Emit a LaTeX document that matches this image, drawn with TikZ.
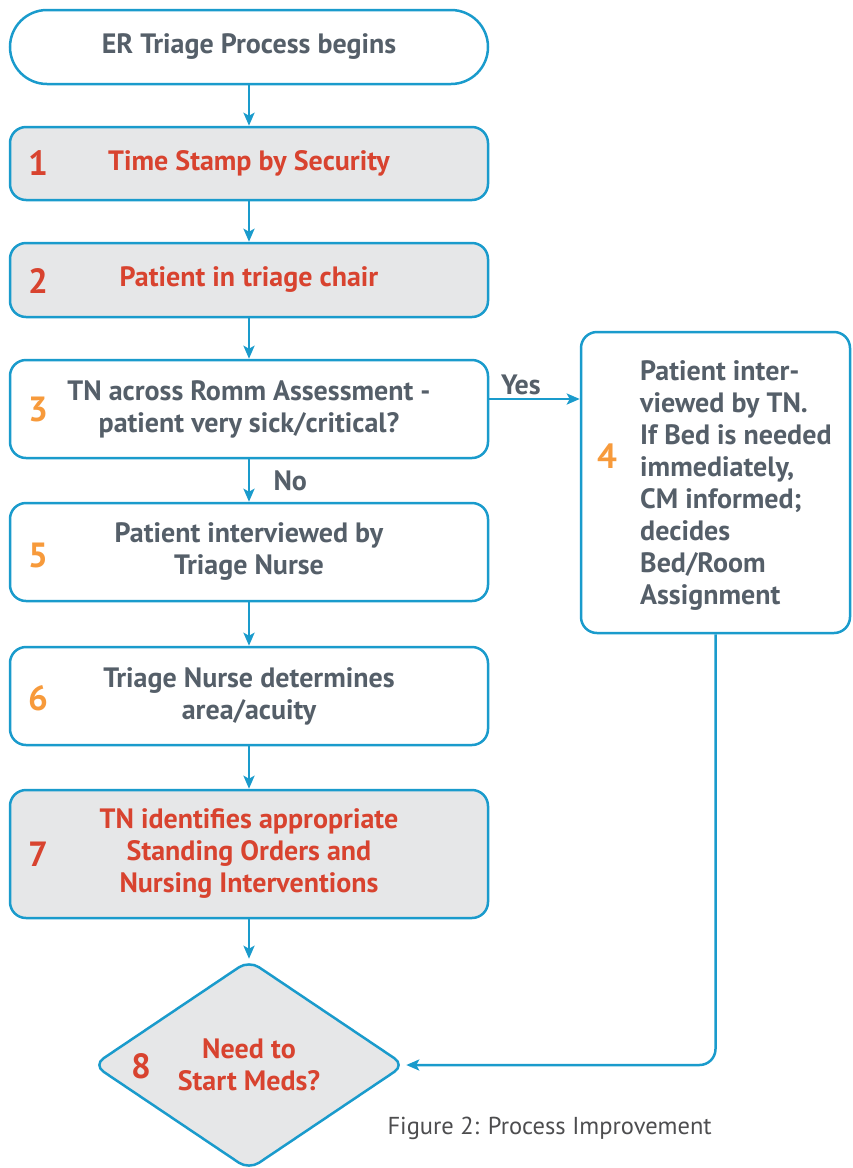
\documentclass[tikz,border=0pt]{standalone}
\usepackage{fontspec}
\setmainfont{PT Sans}
\usepackage{xcolor}
\definecolor{flowblue}{HTML}{1A9BCC}
\definecolor{stepred}{HTML}{D8432F}
\definecolor{steporange}{HTML}{F79A3B}
\definecolor{textgray}{HTML}{555F69}
\definecolor{boxgray}{HTML}{E6E7E8}
\definecolor{captiongray}{HTML}{4D4D4F}
\usetikzlibrary{arrows.meta, positioning, calc, shapes.geometric}

\begin{document}
\begin{tikzpicture}[x=1pt, y=-1pt, >={Stealth[length=13pt, width=11pt, inset=3pt]},
  procbox/.style={draw=flowblue, line width=2.5pt, rounded corners=16pt, minimum width=478pt,
    align=center, font=\fontsize{28}{32}\selectfont\bfseries, text=textgray, fill=white},
  graybox/.style={procbox, fill=boxgray, text=stepred},
  num/.style={font=\fontsize{35}{35}\selectfont\bfseries, text=steporange},
  rednum/.style={num, text=stepred},
  flow/.style={->, draw=flowblue, line width=2.5pt},
  arrowlabel/.style={font=\fontsize{28}{28}\selectfont\bfseries, text=textgray}]

  \useasboundingbox (0,0) rectangle (852,1168);

  % Main column of steps
  \node[procbox, minimum height=74pt, rounded corners=37pt] (start) at (249,47) {ER Triage Process begins};
  \node[graybox, minimum height=73pt] (s1) at (249,163.5) {Time Stamp by Security};
  \node[graybox, minimum height=74pt] (s2) at (249,280) {Patient in triage chair};
  \node[procbox, minimum height=98pt] (s3) at (249,409) {TN across Romm Assessment -\\patient very sick/critical?};
  \node[procbox, minimum height=98pt] (s5) at (249,552) {Patient interviewed by\\Triage Nurse};
  \node[procbox, minimum height=98pt] (s6) at (249,696) {Triage Nurse determines\\area/acuity};
  \node[graybox, minimum height=128pt] (s7) at (249,854) {TN identifies appropriate\\Standing Orders and\\Nursing Interventions};
  \node[graybox, diamond, minimum width=312pt, minimum height=210pt, inner sep=0pt,
    rounded corners=12pt] (s8) at (249,1065) {Need to\\Start Meds?};

  % Side branch for critical patients
  \node[procbox, minimum width=269pt, minimum height=301pt] (s4) at (715.5,482.5) {};
  \node[text=textgray, font=\fontsize{28}{32}\selectfont\bfseries, align=left, anchor=west, inner sep=0pt]
    (t4) at (640,486) {Patient inter-\\viewed by TN.\\If Bed is needed\\immediately,\\CM informed;\\decides\\Bed/Room\\Assignment};

  % Step numbers
  \node[rednum] (n1) at (38,163) {1};
  \node[rednum] (n2) at (38,281) {2};
  \node[num] (n3) at (38,409) {3};
  \node[num] (n4) at (607,456) {4};
  \node[num] (n5) at (38,555) {5};
  \node[num] (n6) at (38,698) {6};
  \node[rednum] (n7) at (38,854) {7};
  \node[rednum] (n8) at (141,1066) {8};

  % Connections
  \draw[flow] (start) -- (s1);
  \draw[flow] (s1) -- (s2);
  \draw[flow] (s2) -- (s3);
  \draw[flow] ([yshift=10pt]s3.east) -- node[arrowlabel, above, pos=0.35] {Yes} ([yshift=10pt]s3.east -| s4.west);
  \draw[flow] (s3) -- node[arrowlabel, right, xshift=20pt] {No} (s5);
  \draw[flow] (s5) -- (s6);
  \draw[flow] (s6) -- (s7);
  \draw[flow] (s7) -- (s8);
  \draw[flow, rounded corners=16pt] (s4.south) |- (s8.east);

  % Caption
  \node[font=\fontsize{24.5}{24.5}\selectfont, text=captiongray, anchor=west] (caption) at (384,1128) {Figure 2: Process Improvement};

\end{tikzpicture}
\end{document}
